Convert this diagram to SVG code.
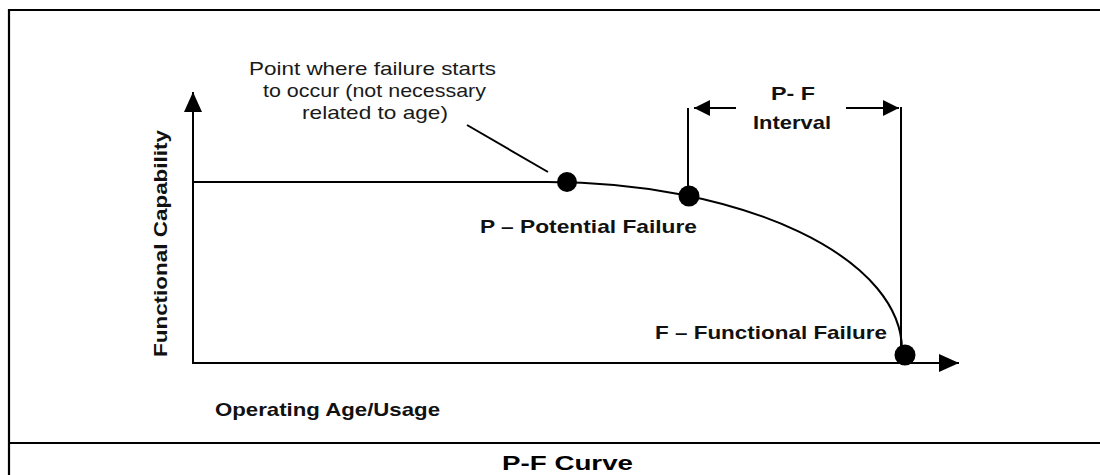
<svg xmlns="http://www.w3.org/2000/svg" width="1100" height="475" viewBox="0 0 1100 475">
  <style>
    .ln { stroke: #000; stroke-width: 2; fill: none; }
    .frame { stroke: #000; stroke-width: 2.2; fill: none; }
    .dot { fill: #000; }
    .reg { font-family: "Liberation Sans", Arial, sans-serif; font-size: 19px; fill: #1a1a1a; }
    .bold { font-family: "Liberation Sans", Arial, sans-serif; font-size: 19px; font-weight: bold; fill: #111; }
    .cap { font-family: "Liberation Sans", Arial, sans-serif; font-size: 21px; font-weight: bold; fill: #000; }
  </style>
  <defs>
    <marker id="ah" markerUnits="userSpaceOnUse" markerWidth="20" markerHeight="18" refX="20" refY="9" orient="auto">
      <path d="M0,0 L20,9 L0,18 z" fill="#000"/>
    </marker>
    <marker id="ahs" markerUnits="userSpaceOnUse" markerWidth="16" markerHeight="16" refX="16" refY="8" orient="auto">
      <path d="M0,0 L16,8 L0,16 z" fill="#000"/>
    </marker>
  </defs>
  <rect width="1100" height="475" fill="#fff"/>

  <g id="frame">
    <line class="frame" x1="9" y1="10" x2="1100" y2="10"/>
    <line class="frame" x1="9" y1="9" x2="9" y2="475"/>
    <line class="frame" x1="9" y1="443" x2="1100" y2="443"/>
  </g>

  <g id="axes">
    <line class="ln" x1="193" y1="364" x2="193" y2="92" marker-end="url(#ah)"/>
    <line class="ln" x1="192" y1="363" x2="959" y2="363" marker-end="url(#ah)"/>
  </g>

  <g id="curve">
    <path class="ln" d="M193,182 L548,182 A355,168 0 0 1 902,350 L904,355"/>
  </g>

  <g id="point-start">
    <circle class="dot" cx="567" cy="182" r="10"/>
  </g>
  <g id="point-p">
    <circle class="dot" cx="689" cy="196" r="10.5"/>
    <text class="bold" x="480" y="233" textLength="217" lengthAdjust="spacingAndGlyphs">P – Potential Failure</text>
  </g>
  <g id="point-f">
    <circle class="dot" cx="905" cy="355" r="10.5"/>
    <text class="bold" x="655" y="339" textLength="232" lengthAdjust="spacingAndGlyphs">F – Functional Failure</text>
  </g>

  <g id="note">
    <text class="reg" x="249" y="75" textLength="247" lengthAdjust="spacingAndGlyphs">Point where failure starts</text>
    <text class="reg" x="263" y="97" textLength="223" lengthAdjust="spacingAndGlyphs">to occur (not necessary</text>
    <text class="reg" x="302" y="119" textLength="146" lengthAdjust="spacingAndGlyphs">related to age)</text>
  </g>

  <g id="pf-interval">
    <text class="bold" x="771" y="100" font-size="18" textLength="44" lengthAdjust="spacingAndGlyphs">P- F</text>
    <text class="bold" x="753" y="129" font-size="18" textLength="78" lengthAdjust="spacingAndGlyphs">Interval</text>
  </g>

  <g id="axis-labels">
    <text class="bold" transform="translate(167,357) rotate(-90)" x="0" y="0" textLength="227" lengthAdjust="spacingAndGlyphs">Functional Capability</text>
    <text class="bold" x="215" y="416" textLength="225" lengthAdjust="spacingAndGlyphs">Operating Age/Usage</text>
  </g>

  <g id="connectors">
    <line class="ln" x1="467" y1="125" x2="548" y2="172"/>
    <line class="ln" x1="688" y1="108" x2="688" y2="196"/>
    <line class="ln" x1="901" y1="107" x2="901" y2="355"/>
    <line class="ln" x1="736" y1="108" x2="694" y2="108" marker-end="url(#ahs)"/>
    <line class="ln" x1="846" y1="108" x2="899" y2="108" marker-end="url(#ahs)"/>
  </g>

  <g id="caption">
    <text class="cap" x="502" y="470" textLength="131" lengthAdjust="spacingAndGlyphs">P-F Curve</text>
  </g>
</svg>
